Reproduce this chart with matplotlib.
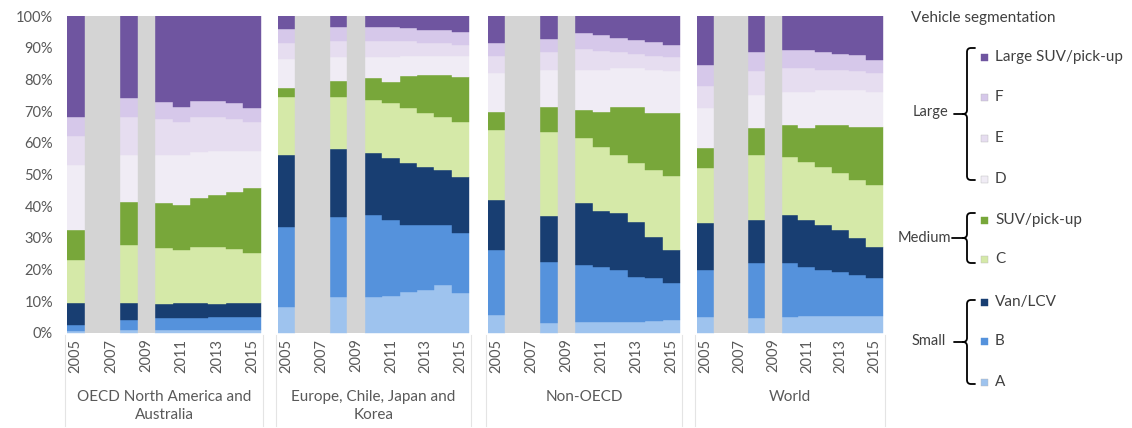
import matplotlib.pyplot as plt
from matplotlib.path import Path
from matplotlib.patches import PathPatch, Rectangle

plt.rcParams['font.family'] = ['Lato', 'DejaVu Sans']

# Years with data, years without data (shaded), labelled years
years = [2005, 2008, 2010, 2011, 2012, 2013, 2014, 2015]
gap_years = [2006, 2007, 2009]
tick_years = [2005, 2007, 2009, 2011, 2013, 2015]

segments = ["A", "B", "Van/LCV", "C", "SUV/pick-up", "D", "E", "F", "Large SUV/pick-up"]
seg_colors = ["#9ec3ee", "#5592dc", "#183e72", "#d5e9a8", "#78a73a",
              "#f0ecf5", "#e6ddf0", "#d6c8ea", "#6f55a0"]

# Market share of each segment (%), bottom to top
oecd_na = {
    "A":                 [0.7, 0.8, 0.8, 0.8, 0.8, 0.9, 0.9, 0.9],
    "B":                 [1.8, 3.2, 3.9, 4.0, 4.0, 4.1, 4.1, 4.1],
    "Van/LCV":           [7.0, 5.5, 4.6, 4.8, 4.6, 4.0, 4.6, 4.6],
    "C":                 [13.5, 18.3, 17.5, 16.6, 17.6, 18.0, 16.9, 15.6],
    "SUV/pick-up":       [9.5, 13.6, 14.2, 14.3, 15.6, 16.5, 18.0, 20.5],
    "D":                 [20.5, 14.6, 15.0, 15.5, 14.4, 14.0, 13.0, 11.8],
    "E":                 [9.0, 12.0, 11.5, 10.5, 11.0, 10.5, 10.0, 9.0],
    "F":                 [6.2, 6.0, 5.5, 4.9, 5.3, 5.3, 5.0, 4.5],
    "Large SUV/pick-up": [31.8, 26.0, 27.0, 28.6, 26.7, 26.7, 27.5, 29.0],
}
europe = {
    "A":                 [8.3, 11.5, 11.5, 11.8, 13.0, 13.5, 15.1, 12.5],
    "B":                 [25.2, 25.2, 25.7, 23.8, 21.0, 20.5, 18.9, 19.0],
    "Van/LCV":           [22.7, 21.3, 19.6, 19.5, 19.5, 18.5, 17.4, 17.8],
    "C":                 [18.3, 16.5, 16.7, 17.4, 17.4, 16.8, 16.8, 17.4],
    "SUV/pick-up":       [2.7, 4.9, 6.8, 6.8, 10.1, 12.1, 13.2, 14.2],
    "D":                 [9.3, 7.6, 6.7, 7.7, 6.5, 6.1, 6.1, 6.6],
    "E":                 [5.0, 5.0, 5.0, 5.0, 4.5, 4.0, 4.0, 3.5],
    "F":                 [4.5, 4.6, 4.6, 4.5, 4.2, 4.1, 4.0, 4.0],
    "Large SUV/pick-up": [4.0, 3.4, 3.4, 3.5, 3.8, 4.4, 4.5, 5.0],
}
non_oecd = {
    "A":                 [5.7, 3.0, 3.5, 3.5, 3.5, 3.5, 3.8, 4.0],
    "B":                 [20.5, 19.5, 18.0, 17.4, 16.4, 14.3, 13.5, 11.7],
    "Van/LCV":           [15.8, 14.4, 19.4, 17.7, 17.9, 17.3, 13.1, 10.5],
    "C":                 [22.0, 26.6, 20.5, 20.2, 18.4, 18.4, 21.0, 23.3],
    "SUV/pick-up":       [5.8, 7.9, 8.9, 11.0, 15.0, 17.7, 17.9, 19.8],
    "D":                 [12.2, 11.6, 12.7, 13.2, 12.3, 12.3, 13.7, 13.2],
    "E":                 [5.5, 5.5, 6.5, 6.0, 5.0, 4.5, 4.5, 4.5],
    "F":                 [4.1, 4.1, 5.0, 5.0, 4.7, 4.4, 4.3, 3.9],
    "Large SUV/pick-up": [8.4, 7.4, 5.5, 6.0, 6.8, 7.6, 8.2, 9.1],
}
world = {
    "A":                 [5.1, 4.6, 5.1, 5.3, 5.3, 5.5, 5.5, 5.5],
    "B":                 [14.8, 17.4, 16.9, 15.6, 14.6, 13.8, 12.8, 11.7],
    "Van/LCV":           [14.7, 13.6, 15.2, 14.7, 14.2, 13.2, 11.6, 10.0],
    "C":                 [17.4, 20.6, 18.4, 18.4, 18.4, 17.9, 18.4, 19.5],
    "SUV/pick-up":       [6.3, 8.4, 10.0, 10.6, 13.1, 15.2, 16.7, 18.3],
    "D":                 [12.7, 10.4, 10.4, 11.4, 10.9, 10.9, 11.5, 11.0],
    "E":                 [7.0, 7.5, 7.5, 7.5, 6.5, 6.5, 6.0, 6.0],
    "F":                 [6.5, 6.2, 5.8, 5.8, 5.7, 5.1, 5.1, 4.0],
    "Large SUV/pick-up": [15.5, 11.3, 10.7, 10.7, 11.3, 11.9, 12.4, 14.0],
}

regions = [oecd_na, europe, non_oecd, world]
region_labels = ["OECD North America and\nAustralia",
                 "Europe, Chile, Japan and\nKorea",
                 "Non-OECD", "World"]

W, H = 1132, 428
TXT = "#595959"
GAP = "#d4d4d4"
panel_px = [(67, 261), (278, 469), (488, 680), (697, 883)]
top_px, bot_px = 16, 333


def runs(idx_years):
    """Split year positions into runs of consecutive years."""
    out, cur = [], [0]
    for k in range(1, len(idx_years)):
        if idx_years[k] == idx_years[k - 1] + 1:
            cur.append(k)
        else:
            out.append(cur)
            cur = [k]
    out.append(cur)
    return out


fig = plt.figure(figsize=(W / 100, H / 100), dpi=100)

for i, (data, label, (x0, x1)) in enumerate(zip(regions, region_labels, panel_px)):
    ax = fig.add_axes([x0 / W, 1 - bot_px / H, (x1 - x0) / W, (bot_px - top_px) / H])
    lower = [0.0] * len(years)
    for seg, col in zip(segments, seg_colors):
        upper = [b + v for b, v in zip(lower, data[seg])]
        for run in runs(years):
            xs = [years[k] - 0.5 for k in run] + [years[run[-1]] + 0.5]
            lo = [lower[k] for k in run] + [lower[run[-1]]]
            hi = [upper[k] for k in run] + [upper[run[-1]]]
            ax.fill_between(xs, lo, hi, step='post', facecolor=col,
                            edgecolor=col, linewidth=0.3)
        lower = upper
    ax.bar(gap_years, [100] * len(gap_years), width=1.0, color=GAP,
           edgecolor=GAP, linewidth=0.3)
    ax.set_xlim(2004.5, 2015.5)
    ax.set_ylim(0, 100)
    for s in ax.spines.values():
        s.set_visible(False)
    ax.set_xticks(tick_years)
    ax.set_xticklabels([str(y) for y in tick_years], rotation=90,
                       fontsize=10.5, color=TXT)
    ax.tick_params(axis='x', length=0, pad=4)
    if i == 0:
        ax.set_yticks(range(0, 101, 10))
        ax.set_yticklabels([f"{v}%" for v in range(0, 101, 10)],
                           fontsize=10.5, color=TXT)
        ax.tick_params(axis='y', length=0, pad=10)
    else:
        ax.set_yticks([])
    ax.text(0.5, -0.18, label, transform=ax.transAxes, ha='center', va='top',
            fontsize=11, color=TXT, linespacing=1.35)

# Overlay in pixel coordinates for dividers and the grouped legend
ov = fig.add_axes([0, 0, 1, 1], zorder=5)
ov.set_xlim(0, W)
ov.set_ylim(H, 0)
ov.axis('off')
ov.patch.set_alpha(0)

for x0, x1 in panel_px:
    for x in (x0 - 2, x1 + 2):
        ov.plot([x, x], [bot_px + 2, 426], color="#e4e4e4", lw=0.8)

ov.text(911, 18, "Vehicle segmentation", fontsize=11, color="#404040",
        ha='left', va='center')

item_y = [382, 341, 302, 259, 220, 179, 138, 97, 57]
for seg, col, y in zip(segments, seg_colors, item_y):
    ov.add_patch(Rectangle((981, y - 3.5), 7, 7, facecolor=col,
                           edgecolor='#b8b8b8' if seg in ("D", "E", "F", "C", "A") else col,
                           linewidth=0.3))
    ov.text(995, y, seg, fontsize=11, color="#404040", ha='left', va='center')


def bracket(ax, x, y0, y1, tip):
    r = 4
    ym = (y0 + y1) / 2
    verts = [(x + 8, y0), (x + r, y0), (x, y0), (x, y0 + r),
             (x, ym - r), (x, ym), (x - r, ym), (tip, ym),
             (x - r, ym), (x, ym), (x, ym + r),
             (x, y1 - r), (x, y1), (x + r, y1), (x + 8, y1)]
    codes = [Path.MOVETO, Path.LINETO, Path.CURVE3, Path.CURVE3,
             Path.LINETO, Path.CURVE3, Path.CURVE3, Path.LINETO,
             Path.MOVETO, Path.CURVE3, Path.CURVE3,
             Path.LINETO, Path.CURVE3, Path.CURVE3, Path.LINETO]
    ax.add_patch(PathPatch(Path(verts, codes), facecolor='none',
                           edgecolor='black', lw=1.3, capstyle='round'))


bracket(ov, 967, 48, 180, 954)
bracket(ov, 967, 213, 263, 952)
bracket(ov, 967, 300, 384, 954)
ov.text(931, 112, "Large", fontsize=10.5, color="#404040", ha='center', va='center')
ov.text(924, 238, "Medium", fontsize=10.5, color="#404040", ha='center', va='center')
ov.text(929, 341, "Small", fontsize=10.5, color="#404040", ha='center', va='center')

fig.savefig("out.png", dpi=100, facecolor='white')
